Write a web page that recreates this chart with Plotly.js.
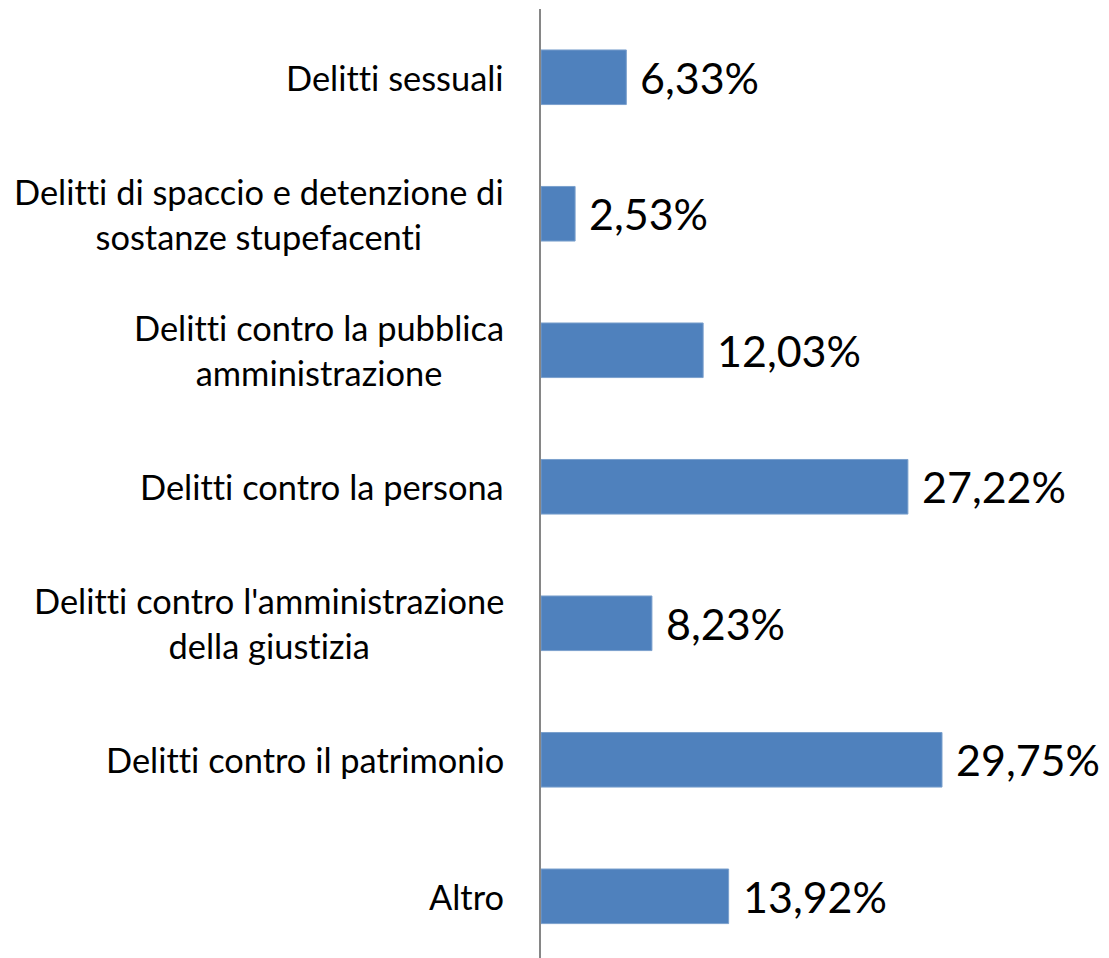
<!DOCTYPE html>
<html><head><meta charset="utf-8">
<script src="https://cdn.plot.ly/plotly-3.0.1.min.js"></script>
<style>html,body{margin:0;padding:0;background:#fff}#chart{width:1109px;height:958px}
text{font-variant-ligatures:none;font-feature-settings:"liga" 0,"clig" 0;}</style>
</head><body><div id="chart"></div>
<script>
// bottom to top
var categories = ["Altro", "Delitti contro il patrimonio", "Delitti contro l'amministrazione<br>della giustizia", "Delitti contro la persona", "Delitti contro la pubblica<br>amministrazione", "Delitti di spaccio e detenzione di<br>sostanze stupefacenti", "Delitti sessuali"];
var values = [13.92, 29.75, 8.23, 27.22, 12.03, 2.53, 6.33];
var valueLabels = ["13,92%", "29,75%", "8,23%", "27,22%", "12,03%", "2,53%", "6,33%"];

var FONT = "Lato, 'Open Sans', sans-serif";
var idx = categories.map(function(_, i){ return i; });
var annotations = [];
categories.forEach(function(c, i){
  annotations.push({xref:'paper', x:0, yref:'y', y:i, text:c, showarrow:false,
    xanchor:'right', yanchor:'middle', xshift:-35, align:'center',
    font:{family:FONT, size:34.4, color:'#000'}});
  annotations.push({xref:'x', x:values[i], yref:'y', y:i, text:valueLabels[i], showarrow:false,
    xanchor:'left', yanchor:'middle', xshift:12,
    font:{family:FONT, size:43, color:'#000'}});
});

Plotly.newPlot('chart', [{
  type:'bar', orientation:'h', x:values, y:idx, width:0.4,
  marker:{color:'#4F81BD', line:{color:'#7BA0CD', width:1}},
  hoverinfo:'none'
}], {
  width:1109, height:958,
  margin:{l:541, r:0, t:9, b:0},
  paper_bgcolor:'#fff', plot_bgcolor:'#fff',
  xaxis:{range:[0, 42.14], visible:false, fixedrange:true},
  yaxis:{range:[-0.452, 6.5], showticklabels:false, ticks:'', showgrid:false, zeroline:false,
    showline:true, linecolor:'#868686', linewidth:2, fixedrange:true},
  showlegend:false,
  annotations:annotations
}, {staticPlot:true});
</script></body></html>
